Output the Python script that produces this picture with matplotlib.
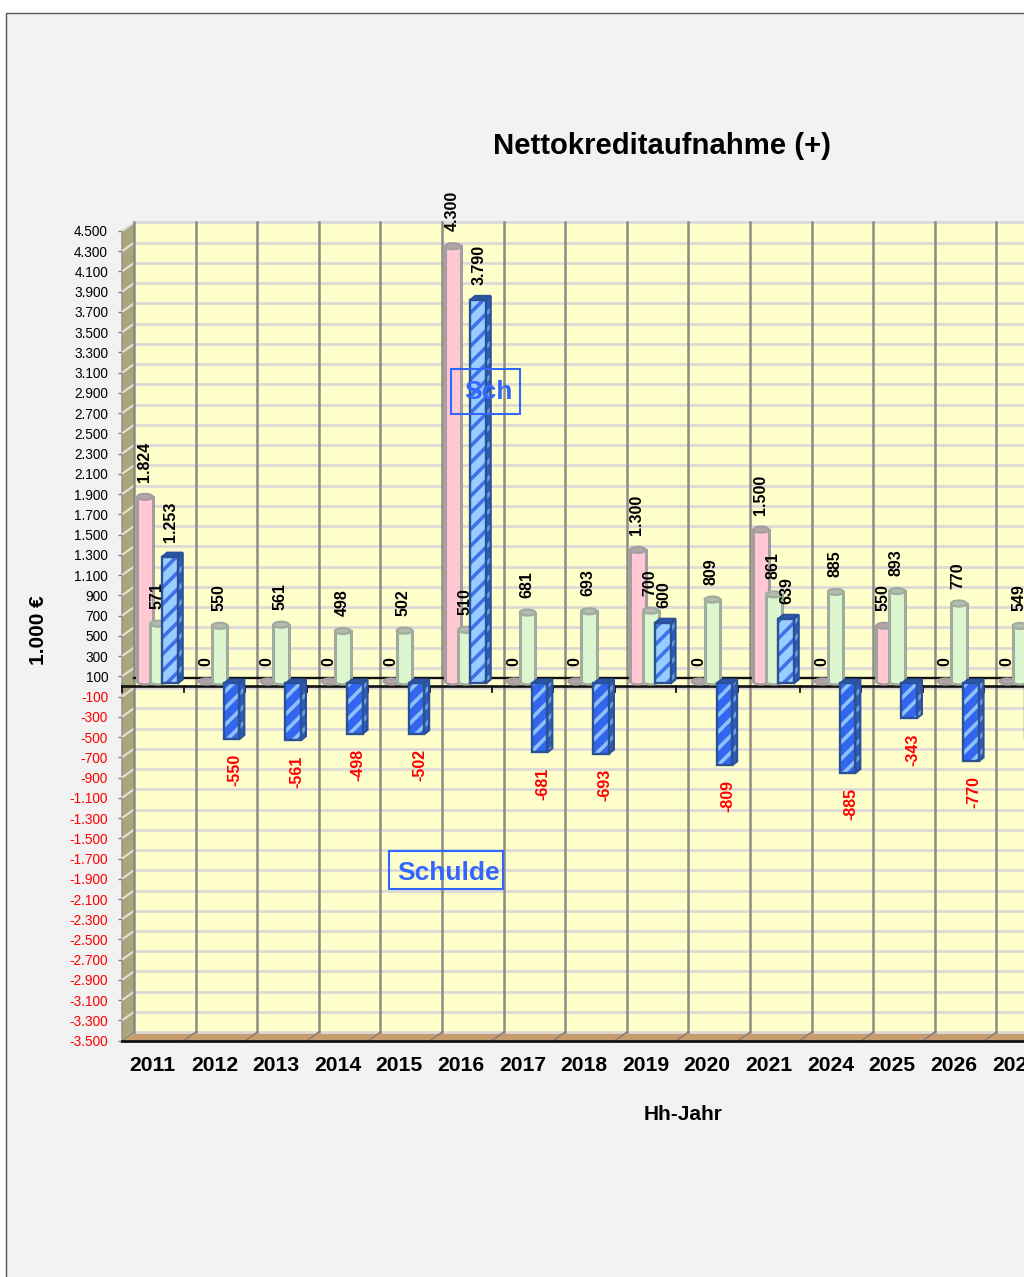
import matplotlib
matplotlib.use("Agg")
import matplotlib.pyplot as plt
from matplotlib.patches import Rectangle, Ellipse, Polygon

years = ["2011","2012","2013","2014","2015","2016","2017","2018","2019","2020","2021","2024","2025","2026","2027"]
pink  = [1824,0,0,0,0,4300,0,0,1300,0,1500,0,550,0,0]
green = [571,550,561,498,502,510,681,693,700,809,861,885,893,770,549]
blue  = [1253,-550,-561,-498,-502,3790,-681,-693,600,-809,639,-885,-343,-770,-549]
ticks = list(range(-3500,4501,200))

def fmt(v):
    s = f"{abs(v):,}".replace(",",".")
    return ("-" if v<0 else "")+s

plt.rcParams['font.family'] = ['Liberation Sans','DejaVu Sans']
plt.rcParams['hatch.linewidth'] = 2.6

W,H = 1024,1277
fig = plt.figure(figsize=(W/100,H/100),dpi=100,facecolor='white')
fig.add_artist(Rectangle((6/W,-0.05),1.1,1.05-13/H,transform=fig.transFigure,fc='#f2f2f2',ec='#555555',lw=1,zorder=-5))

CAT=61.6
L,T,B=122.0,231.0,1040.7
ax = fig.add_axes([L/W,(H-B)/H,CAT*15/W,(B-T)/H])
ax.set_xlim(0,15); ax.set_ylim(-3500,4500)
ax.patch.set_visible(False)
for s in ax.spines.values(): s.set_visible(False)
PX = 1/CAT                  # category units per pixel
PY = 8000/(B-T)             # value units per pixel
DX,DY = 12*PX, 8.5*PY
YMIN,YMAX = -3500,4500

# walls
ax.add_patch(Rectangle((DX,YMIN+DY),15,8000,fc='#ffffcc',ec='none',zorder=1,clip_on=False))
ax.add_patch(Polygon([(0,YMIN),(0,YMAX),(DX,YMAX+DY),(DX,YMIN+DY)],fc='#a9a57c',ec='#8f8f80',lw=1,zorder=1,clip_on=False))
ax.add_patch(Polygon([(0,YMIN),(15,YMIN),(15+DX,YMIN+DY),(DX,YMIN+DY)],fc='#c79d70',ec='none',zorder=1,clip_on=False))
for t in ticks:
    ax.plot([DX,15+DX],[t+DY,t+DY],color='#dcd9d6',lw=2.0,zorder=1.5,clip_on=False,solid_capstyle='butt')
    ax.plot([0,DX],[t,t+DY],color='#e4e2d8',lw=1.5,zorder=1.5,clip_on=False)
for i in range(16):
    ax.plot([i+DX,i+DX],[YMIN+DY,YMAX+DY],color='#8c8c84',lw=1.8,zorder=1.6,clip_on=False)
    ax.plot([i,i+DX],[YMIN,YMIN+DY],color='#8c8070',lw=1.2,zorder=1.6,clip_on=False)
ax.plot([DX,15+DX],[DY,DY],color='#111111',lw=1.7,zorder=2,clip_on=False)
ax.plot([0,15],[0,0],color='#111111',lw=1.9,zorder=2,clip_on=False)
for i in range(16):
    ax.plot([i,i],[0,-6*PY],color='#111111',lw=1.3,zorder=2,clip_on=False)
ax.plot([0,15],[YMIN,YMIN],color='#111111',lw=2.0,zorder=2,clip_on=False)

BASE = 3*PY      # front face of the boxes
CBASE = 5*PY     # cylinders stand a little further back
BW = 15.5*PX
OFF = [23*PX, 36*PX, 48*PX]
GAP = 15*PY
EH = 6*PY
FS = 11.5

def cylinder(x,v,fc,ec,topc,z):
    ax.add_patch(Ellipse((x,CBASE),BW,EH,fc=topc if v==0 else fc,ec=ec,lw=1.6,zorder=z,clip_on=False))
    if v>0:
        ax.bar([x],[v],BW,bottom=CBASE,color=fc,edgecolor='none',zorder=z,clip_on=False)
        ax.plot([x-BW/2]*2,[CBASE,CBASE+v],color=ec,lw=2.2,zorder=z,clip_on=False)
        ax.plot([x+BW/2]*2,[CBASE,CBASE+v],color=ec,lw=2.2,zorder=z,clip_on=False)
        ax.add_patch(Ellipse((x,CBASE+v),BW,EH,fc=topc,ec=ec,lw=1.6,zorder=z,clip_on=False))

def label(x,y,v,z,color='black',neg=False):
    if neg:
        ax.text(x,y-GAP,fmt(v),rotation=90,ha='center',va='top',fontsize=FS,fontweight='bold',color=color,zorder=z,clip_on=False)
    else:
        ax.text(x,y+GAP,fmt(v),rotation=90,ha='center',va='bottom',fontsize=FS,fontweight='bold',color=color,zorder=z,clip_on=False)

def box3d(x,v,z):
    pos = v>0
    fc = '#99ccff' if pos else '#3366ee'
    hc = '#3f72e8' if pos else '#8fc0fa'
    dark = '#2a5096'
    l,r = x-BW/2,x+BW/2
    d,h = 5*PX,4*PY
    top = BASE+max(v,0); bot = BASE+min(v,0)
    side = [(r,bot),(r,top),(r+d,top+h),(r+d,bot+h)]
    ax.add_patch(Polygon(side,fc='#2f5cb8',ec='#6f9fe0',hatch='//',lw=0,zorder=z,clip_on=False))
    ax.add_patch(Polygon(side,fill=False,ec=dark,lw=1.5,zorder=z,clip_on=False))
    ax.add_patch(Polygon([(l,top),(r,top),(r+d,top+h),(l+d,top+h)],fc='#2a58b0',ec=dark,lw=1.5,zorder=z,clip_on=False))
    ax.bar([x],[v],BW,bottom=BASE,color=fc,edgecolor=hc,hatch='//',lw=0,zorder=z,clip_on=False)
    ax.bar([x],[v],BW,bottom=BASE,fill=False,edgecolor=dark,lw=1.7,zorder=z,clip_on=False)

for i,p in enumerate(pink):
    cylinder(i+OFF[0],p,'#ffc8d2','#a59ea0','#b5a4a6',3)
    label(i+OFF[0]-PX,CBASE+p,p,3.5)
for i,g in enumerate(green):
    cylinder(i+OFF[1],g,'#dcf6d0','#9fac9e','#b4bcae',4)
    label(i+OFF[1]-PX,CBASE+g,g,4.5)
for i,b in enumerate(blue):
    box3d(i+OFF[2],b,5)
    if b>=0:
        label(i+OFF[2]+PX,BASE+b,b,6)
    else:
        label(i+OFF[2]+3.5*PX,BASE+b,b,6,color='#ff0000',neg=True)

# axes ticks and labels
ax.set_yticks(ticks)
ax.set_yticklabels([fmt(t) for t in ticks],fontsize=9.8)
for lab,t in zip(ax.get_yticklabels(),ticks):
    lab.set_color('#ff0000' if t<0 else 'black')
ax.tick_params(axis='y',length=3,color='#808080',pad=7,width=1)
ax.set_xticks([i+0.5 for i in range(15)])
ax.set_xticklabels(years,fontsize=15.2,fontweight='bold')
ax.tick_params(axis='x',length=0,pad=11)

def ft(x,y,s,**k):
    fig.text(x/W,1-y/H,s,ha='center',va='center',**k)
ft(662,146,"Nettokreditaufnahme (+)",fontsize=21.1,fontweight='bold')
ft(683,1114,"Hh-Jahr",fontsize=15,fontweight='bold')
ft(38,630,"1.000 €",fontsize=15,fontweight='bold',rotation=90)

for (x0,y0,x1,y1,s) in [(451,369,520,414,"Sch"),(389,851,503,889,"Schulde")]:
    fig.add_artist(Rectangle((x0/W,1-y1/H),(x1-x0)/W,(y1-y0)/H,transform=fig.transFigure,fill=False,ec='#3366ff',lw=1.5,zorder=10))
tb = dict(fontsize=19,fontweight='bold',color='#3366ff',zorder=11)
ft(488,392,"Sch",**tb)
ft(449,873,"Schulde",**tb)

fig.savefig("out.png",dpi=100)
